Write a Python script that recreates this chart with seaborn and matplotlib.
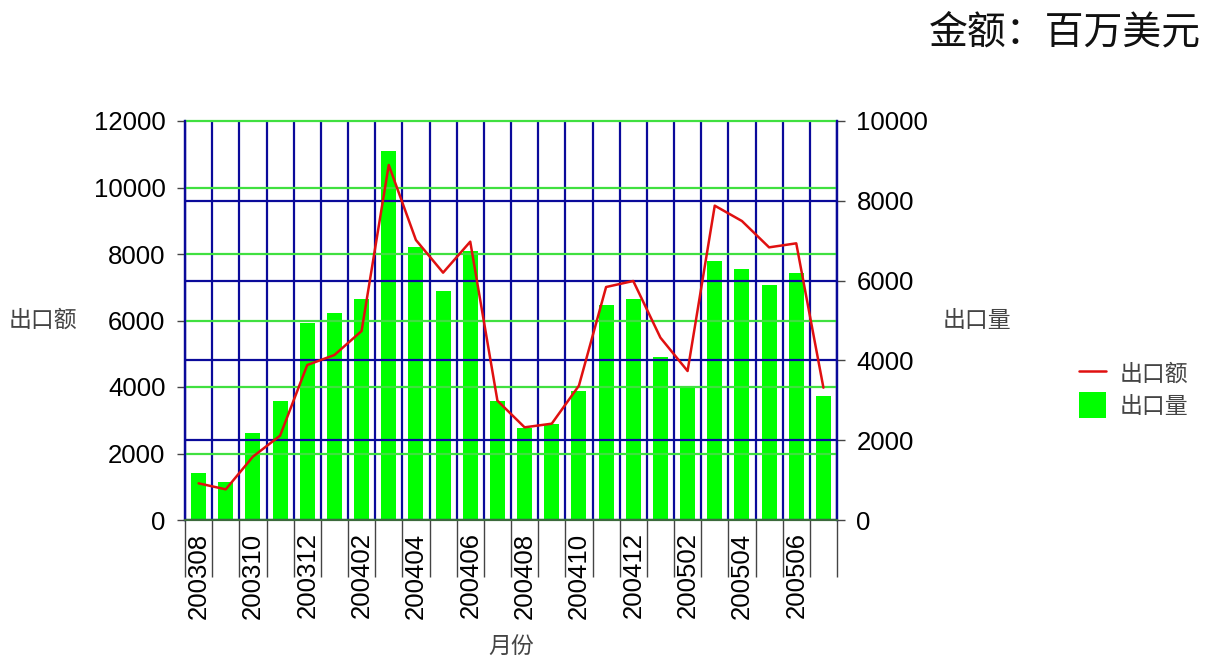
import numpy as np
import pandas as pd
import matplotlib
matplotlib.use("Agg")
import matplotlib.pyplot as plt
import seaborn as sns
from matplotlib.lines import Line2D
from matplotlib.patches import Patch

months = ["200308", "200309", "200310", "200311", "200312", "200401", "200402", "200403",
          "200404", "200405", "200406", "200407", "200408", "200409", "200410", "200411",
          "200412", "200501", "200502", "200503", "200504", "200505", "200506", "200507"]
# 出口额 (left axis)
export_value = [1103, 922, 1905, 2536, 4662, 4962, 5684, 10677, 8421, 7439, 8371, 3589,
                2787, 2897, 4040, 7007, 7188, 5484, 4481, 9454, 8992, 8200, 8321, 3980]
# 出口量 (right axis)
export_volume = [1170, 961, 2173, 2983, 4929, 5180, 5539, 9248, 6833, 5739, 6742, 2983,
                 2314, 2414, 3225, 5380, 5531, 4077, 3317, 6491, 6283, 5890, 6191, 3116]

left_ticks = [0, 2000, 4000, 6000, 8000, 10000, 12000]
right_ticks = [0, 2000, 4000, 6000, 8000, 10000]

sns.set_style("white")
plt.rcParams["font.family"] = ["Liberation Sans", "Noto Sans CJK SC", "DejaVu Sans"]

df = pd.DataFrame({"month": months, "pos": np.arange(len(months)),
                   "value": export_value, "volume": export_volume})

fig = plt.figure(figsize=(12.07, 6.6), dpi=100)
ax1 = fig.add_axes([185 / 1207, 140 / 660, 652 / 1207, 399 / 660])
ax2 = ax1.twinx()

NAVY = "#0a0a9a"
GGRID = "#40e040"

# bars on right axis (drawn underneath)
sns.barplot(data=df, x="pos", y="volume", ax=ax2, color="#00ff00", saturation=1,
            width=0.55, native_scale=True, edgecolor="none", zorder=1)
ax2.set_axisbelow(False)
ax2.set_ylim(0, 10000)
ax2.set_yticks(right_ticks)
ax2.grid(axis="y", color=NAVY, lw=1.6, zorder=2)
ax2.grid(axis="x", visible=False)
ax2.get_ygridlines()[-1].set_visible(False)
ax2.set_ylabel("")

# line on left axis (drawn on top)
ax1.set_zorder(ax2.get_zorder() + 1)
ax1.patch.set_visible(False)
sns.lineplot(data=df, x="pos", y="value", ax=ax1, color="#e01010", lw=1.8, zorder=5)
ax1.set_ylim(0, 12000)
ax1.set_yticks(left_ticks)
ax1.grid(axis="y", color=GGRID, lw=1.6)
ax1.get_ygridlines()[-1].set_clip_on(False)
ax1.set_xlim(-0.5, len(months) - 0.5)
ax1.set_xticks(np.arange(-0.5, len(months), 1), minor=True)
ax1.grid(axis="x", which="minor", color=NAVY, lw=1.6)
ax1.grid(axis="x", which="major", visible=False)
ax1.set_xticks(np.arange(0, len(months), 2))
ax1.set_xticklabels(months[::2], rotation=90, fontsize=18.5, color="black")
ax1.tick_params(axis="x", which="major", length=0, pad=9)
ax1.tick_params(axis="x", which="minor", length=41, width=1, color="#444444", direction="out", bottom=True)

ax1.tick_params(axis="y", length=6, width=1, color="#444444", labelsize=18.5, labelcolor="black", pad=8, left=True)
ax2.tick_params(axis="y", length=6, width=1, color="#444444", labelsize=18.5, labelcolor="black", pad=8, right=True)

for ax in (ax1, ax2):
    ax.spines["top"].set_visible(False)
    ax.spines["left"].set_color(NAVY)
    ax.spines["right"].set_color(NAVY)
    ax.spines["left"].set_linewidth(1.6)
    ax.spines["right"].set_linewidth(1.6)
    ax.spines["bottom"].set_color("#3c6a3c")
    ax.spines["bottom"].set_linewidth(1.5)

lab_kw = dict(fontsize=16.5, color="#444444", family=["Noto Sans CJK SC", "DejaVu Sans"])
ax1.set_ylabel("出口额", rotation=0, ha="center", va="center", **lab_kw)
ax1.yaxis.set_label_coords(-0.218, 0.5)
ax2.set_ylabel("出口量", rotation=0, ha="center", va="center", **lab_kw)
ax2.yaxis.set_label_coords(1.215, 0.5)
ax1.set_xlabel("月份", ha="center", va="center", **lab_kw)
ax1.xaxis.set_label_coords(0.5, -0.32)

handles = [Line2D([0], [0], color="#e01010", lw=1.8),
           Patch(facecolor="#00ff00", edgecolor="none")]
fig.legend(handles, ["出口额", "出口量"], loc="upper left",
           bbox_to_anchor=(1058 / 1207, 1 - 340 / 660), frameon=False,
           prop={"family": ["Noto Sans CJK SC", "DejaVu Sans"], "size": 16.5},
           labelcolor="#444444", handlelength=1.2, handleheight=1.35, handletextpad=0.6,
           labelspacing=0.25)

fig.text(1201 / 1207, 1 - 32 / 660, "金额：百万美元", ha="right", va="center",
         fontsize=28, color="#111111", family=["Noto Sans CJK SC", "DejaVu Sans"])

fig.savefig("out.png", dpi=100)
